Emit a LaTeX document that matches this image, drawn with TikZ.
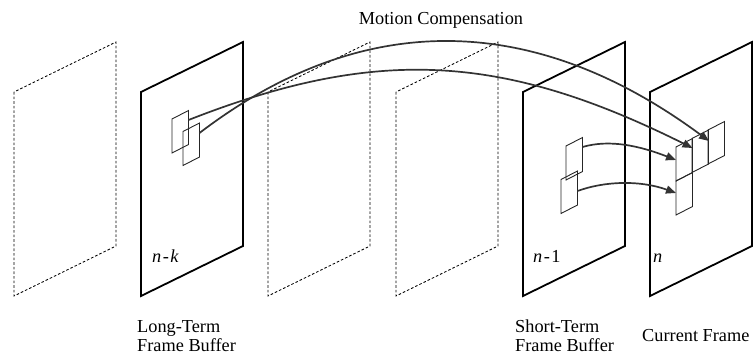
\documentclass[tikz,border=0pt]{standalone}
\usepackage{fontspec}
\setmainfont{Liberation Serif}
\usetikzlibrary{arrows.meta}

\begin{document}
\begin{tikzpicture}[x=1pt,y=-1pt,
  pane/.style={line width=1.8pt},
  ghost/.style={line width=.85pt,dash pattern=on 2.6pt off 2pt},
  blk/.style={line width=.9pt,draw=black!85},
  mc/.style={line width=1.7pt,draw=black!80,-{Triangle[length=10pt,width=8pt]}},
  lbl/.style={font=\fontsize{18.3}{18.5}\selectfont,inner sep=0pt}]
  \useasboundingbox (0,0) rectangle (754,358);
  % frames, left to right
  \foreach \x/\s in {14/ghost,141/pane,268/ghost,396/ghost,523/pane,650/pane}
    \draw[\s] (\x,92) -- (\x,296) -- ++(102,-50) -- ++(0,-204) -- cycle;
  % blocks
  \foreach \x/\y in {172/119,183/131.5,566/146,561/179.5,676/147,676/181,692/138.5,708/130}
    \draw[blk] (\x,\y) -- ++(16.5,-8.5) -- ++(0,34) -- ++(-16.5,8.5) -- cycle;
  \coordinate (a) at (188.5,120);
  \coordinate (b) at (199.5,133);
  \coordinate (d1) at (582.5,147);
  \coordinate (d2) at (577.5,191);
  \coordinate (c1) at (676,160);
  \coordinate (c2) at (676,193);
  \coordinate (c3) at (692.5,148);
  \coordinate (c4) at (709,141);
  % motion vectors
  \draw[mc] (b) .. controls (367,5) and (539,15) .. (c4);
  \draw[mc] (a) .. controls (377,46) and (503,53.5) .. (c3);
  \draw[mc] (d1) .. controls (610,139) and (640,146) .. (c1);
  \draw[mc] (d2) .. controls (605,181) and (640,180) .. (c2);
  % labels
  \node[lbl,anchor=base] (mclabel) at (441,25) {Motion Compensation};
  \node[lbl,anchor=base west] (nk) at (152,262) {\textit{n}\kern1.5pt-\kern1.5pt\textit{k}};
  \node[lbl,anchor=base west] (n1) at (533,262) {\textit{n}\kern1.5pt-\kern1.5pt1};
  \node[lbl,anchor=base west] (n0) at (653,262) {\textit{n}};
  \node[lbl,anchor=base west,align=left] (lt) at (137,351) {Long-Term\\Frame Buffer};
  \node[lbl,anchor=base west,align=left] (st) at (515,351) {Short-Term\\Frame Buffer};
  \node[lbl,anchor=base west] (cf) at (642,341) {Current Frame};
\end{tikzpicture}
\end{document}
